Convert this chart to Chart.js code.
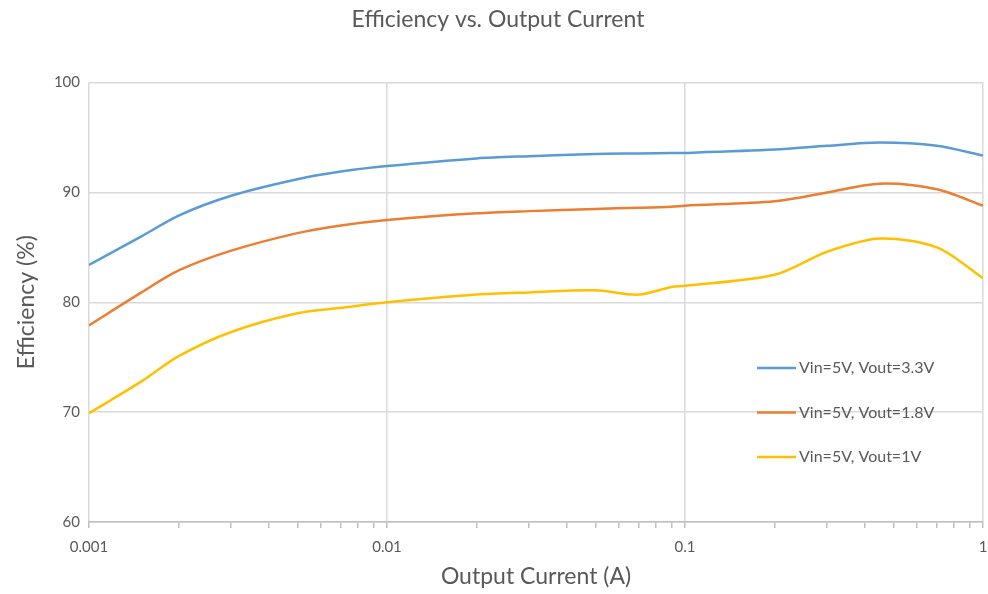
<!DOCTYPE html>
<html>
<head>
<meta charset="utf-8">
<script src="https://cdn.jsdelivr.net/npm/chart.js@4.4.0/dist/chart.umd.min.js"></script>
<style>
    html, body { margin: 0; padding: 0; background: #fff; }
    #wrap { width: 988px; height: 594px; }
</style>
</head>
<body>
<div id="wrap"><canvas id="grafico"></canvas></div>
<script>
// dati
var correnti = [0.001, 0.0015, 0.002, 0.003, 0.005, 0.007, 0.01, 0.02, 0.03, 0.05, 0.07, 0.09, 0.1, 0.2, 0.3, 0.45, 0.7, 1];
var eff33 = [83.4, 86.0, 87.9, 89.7, 91.2, 91.9, 92.4, 93.1, 93.3, 93.5, 93.55, 93.6, 93.6, 93.9, 94.25, 94.55, 94.25, 93.35];
var eff18 = [77.9, 80.9, 82.9, 84.7, 86.3, 87.0, 87.5, 88.1, 88.3, 88.5, 88.6, 88.7, 88.8, 89.2, 90.0, 90.8, 90.3, 88.8];
var eff1 = [69.9, 72.8, 75.1, 77.3, 79.0, 79.5, 80.0, 80.7, 80.9, 81.1, 80.7, 81.4, 81.5, 82.5, 84.6, 85.8, 85.0, 82.2];
var nomiSerie = ['Vin=5V, Vout=3.3V', 'Vin=5V, Vout=1.8V', 'Vin=5V, Vout=1V'];
var colori = ['#5B9BD5', '#ED7D31', '#FFC000'];
var decadi = [0.001, 0.01, 0.1, 1];
var tickY = [60, 70, 80, 90, 100];

var grigio = '#595959';
var font = 'Lato, "Open Sans", sans-serif';

function punti(valori) {
    var out = [];
    for (var i = 0; i < correnti.length; i++) {
        out.push({ x: correnti[i], y: valori[i] });
    }
    return out;
}

function isDecade(v) {
    for (var i = 0; i < decadi.length; i++) {
        if (Math.abs(v - decadi[i]) < decadi[i] * 1e-6) return true;
    }
    return false;
}

// legenda disegnata dentro l'area del grafico
var legendaInterna = {
    id: 'legendaInterna',
    afterDatasetsDraw: function (chart) {
        var ctx = chart.ctx;
        var x0 = 757, y0 = 368, passo = 44.5;
        ctx.save();
        ctx.font = '16px ' + font;
        ctx.textBaseline = 'middle';
        ctx.fillStyle = grigio;
        chart.data.datasets.forEach(function (ds, i) {
            var y = y0 + i * passo;
            ctx.strokeStyle = ds.borderColor;
            ctx.lineWidth = 2.5;
            ctx.beginPath();
            ctx.moveTo(x0, y);
            ctx.lineTo(x0 + 39, y);
            ctx.stroke();
            ctx.fillText(ds.label, x0 + 42, y);
        });
        ctx.restore();
    }
};

var datasets = [];
var serie = [eff33, eff18, eff1];
for (var s = 0; s < serie.length; s++) {
    datasets.push({
        label: nomiSerie[s],
        data: punti(serie[s]),
        borderColor: colori[s],
        backgroundColor: colori[s],
        borderWidth: 2.5,
        pointRadius: 0,
        tension: 0.3,
        fill: false
    });
}

new Chart(document.getElementById('grafico'), {
    type: 'line',
    data: { datasets: datasets },
    plugins: [legendaInterna],
    options: {
        responsive: true,
        maintainAspectRatio: false,
        animation: false,
        layout: { padding: { left: 13, right: 5, top: 0, bottom: 0 } },
        plugins: {
            legend: { display: false },
            tooltip: { enabled: false },
            title: {
                display: true,
                text: 'Efficiency vs. Output Current',
                color: grigio,
                font: { family: font, size: 23, weight: 'normal' },
                padding: { top: 6, bottom: 49 }
            }
        },
        scales: {
            x: {
                type: 'logarithmic',
                min: 0.001,
                max: 1,
                afterBuildTicks: function (scale) {
                    var t = [];
                    for (var d = 0; d < decadi.length; d++) {
                        var lim = d === decadi.length - 1 ? 1 : 9;
                        for (var k = 1; k <= lim; k++) t.push({ value: decadi[d] * k });
                    }
                    scale.ticks = t;
                },
                afterFit: function (scale) {
                    scale.height = 72;
                    scale.paddingLeft = 0;
                    scale.paddingRight = 0;
                },
                ticks: {
                    autoSkip: false,
                    maxRotation: 0,
                    color: grigio,
                    padding: 10,
                    font: { family: font, size: 15 },
                    callback: function (v) { return isDecade(v) ? String(+v.toPrecision(3)) : ''; }
                },
                grid: {
                    color: function (c) { return c.tick && isDecade(c.tick.value) ? '#d9d9d9' : 'rgba(0,0,0,0)'; },
                    tickColor: '#bfbfbf',
                    tickLength: 6,
                    lineWidth: 1.5
                },
                border: { color: '#bfbfbf', width: 1.5 },
                title: {
                    display: true,
                    text: 'Output Current (A)',
                    color: grigio,
                    font: { family: font, size: 23 },
                    padding: { top: 0, bottom: 4 }
                }
            },
            y: {
                min: 60,
                max: 100,
                afterBuildTicks: function (scale) {
                    scale.ticks = tickY.map(function (v) { return { value: v }; });
                },
                afterFit: function (scale) { scale.width = 76; },
                ticks: {
                    color: grigio,
                    padding: 9,
                    font: { family: font, size: 15 }
                },
                grid: { color: '#d9d9d9', lineWidth: 1.5, drawTicks: false },
                border: { display: false },
                title: {
                    display: true,
                    text: 'Efficiency (%)',
                    color: grigio,
                    font: { family: font, size: 23 },
                    padding: { top: 0, bottom: 0 }
                }
            }
        }
    }
});
</script>
</body>
</html>
